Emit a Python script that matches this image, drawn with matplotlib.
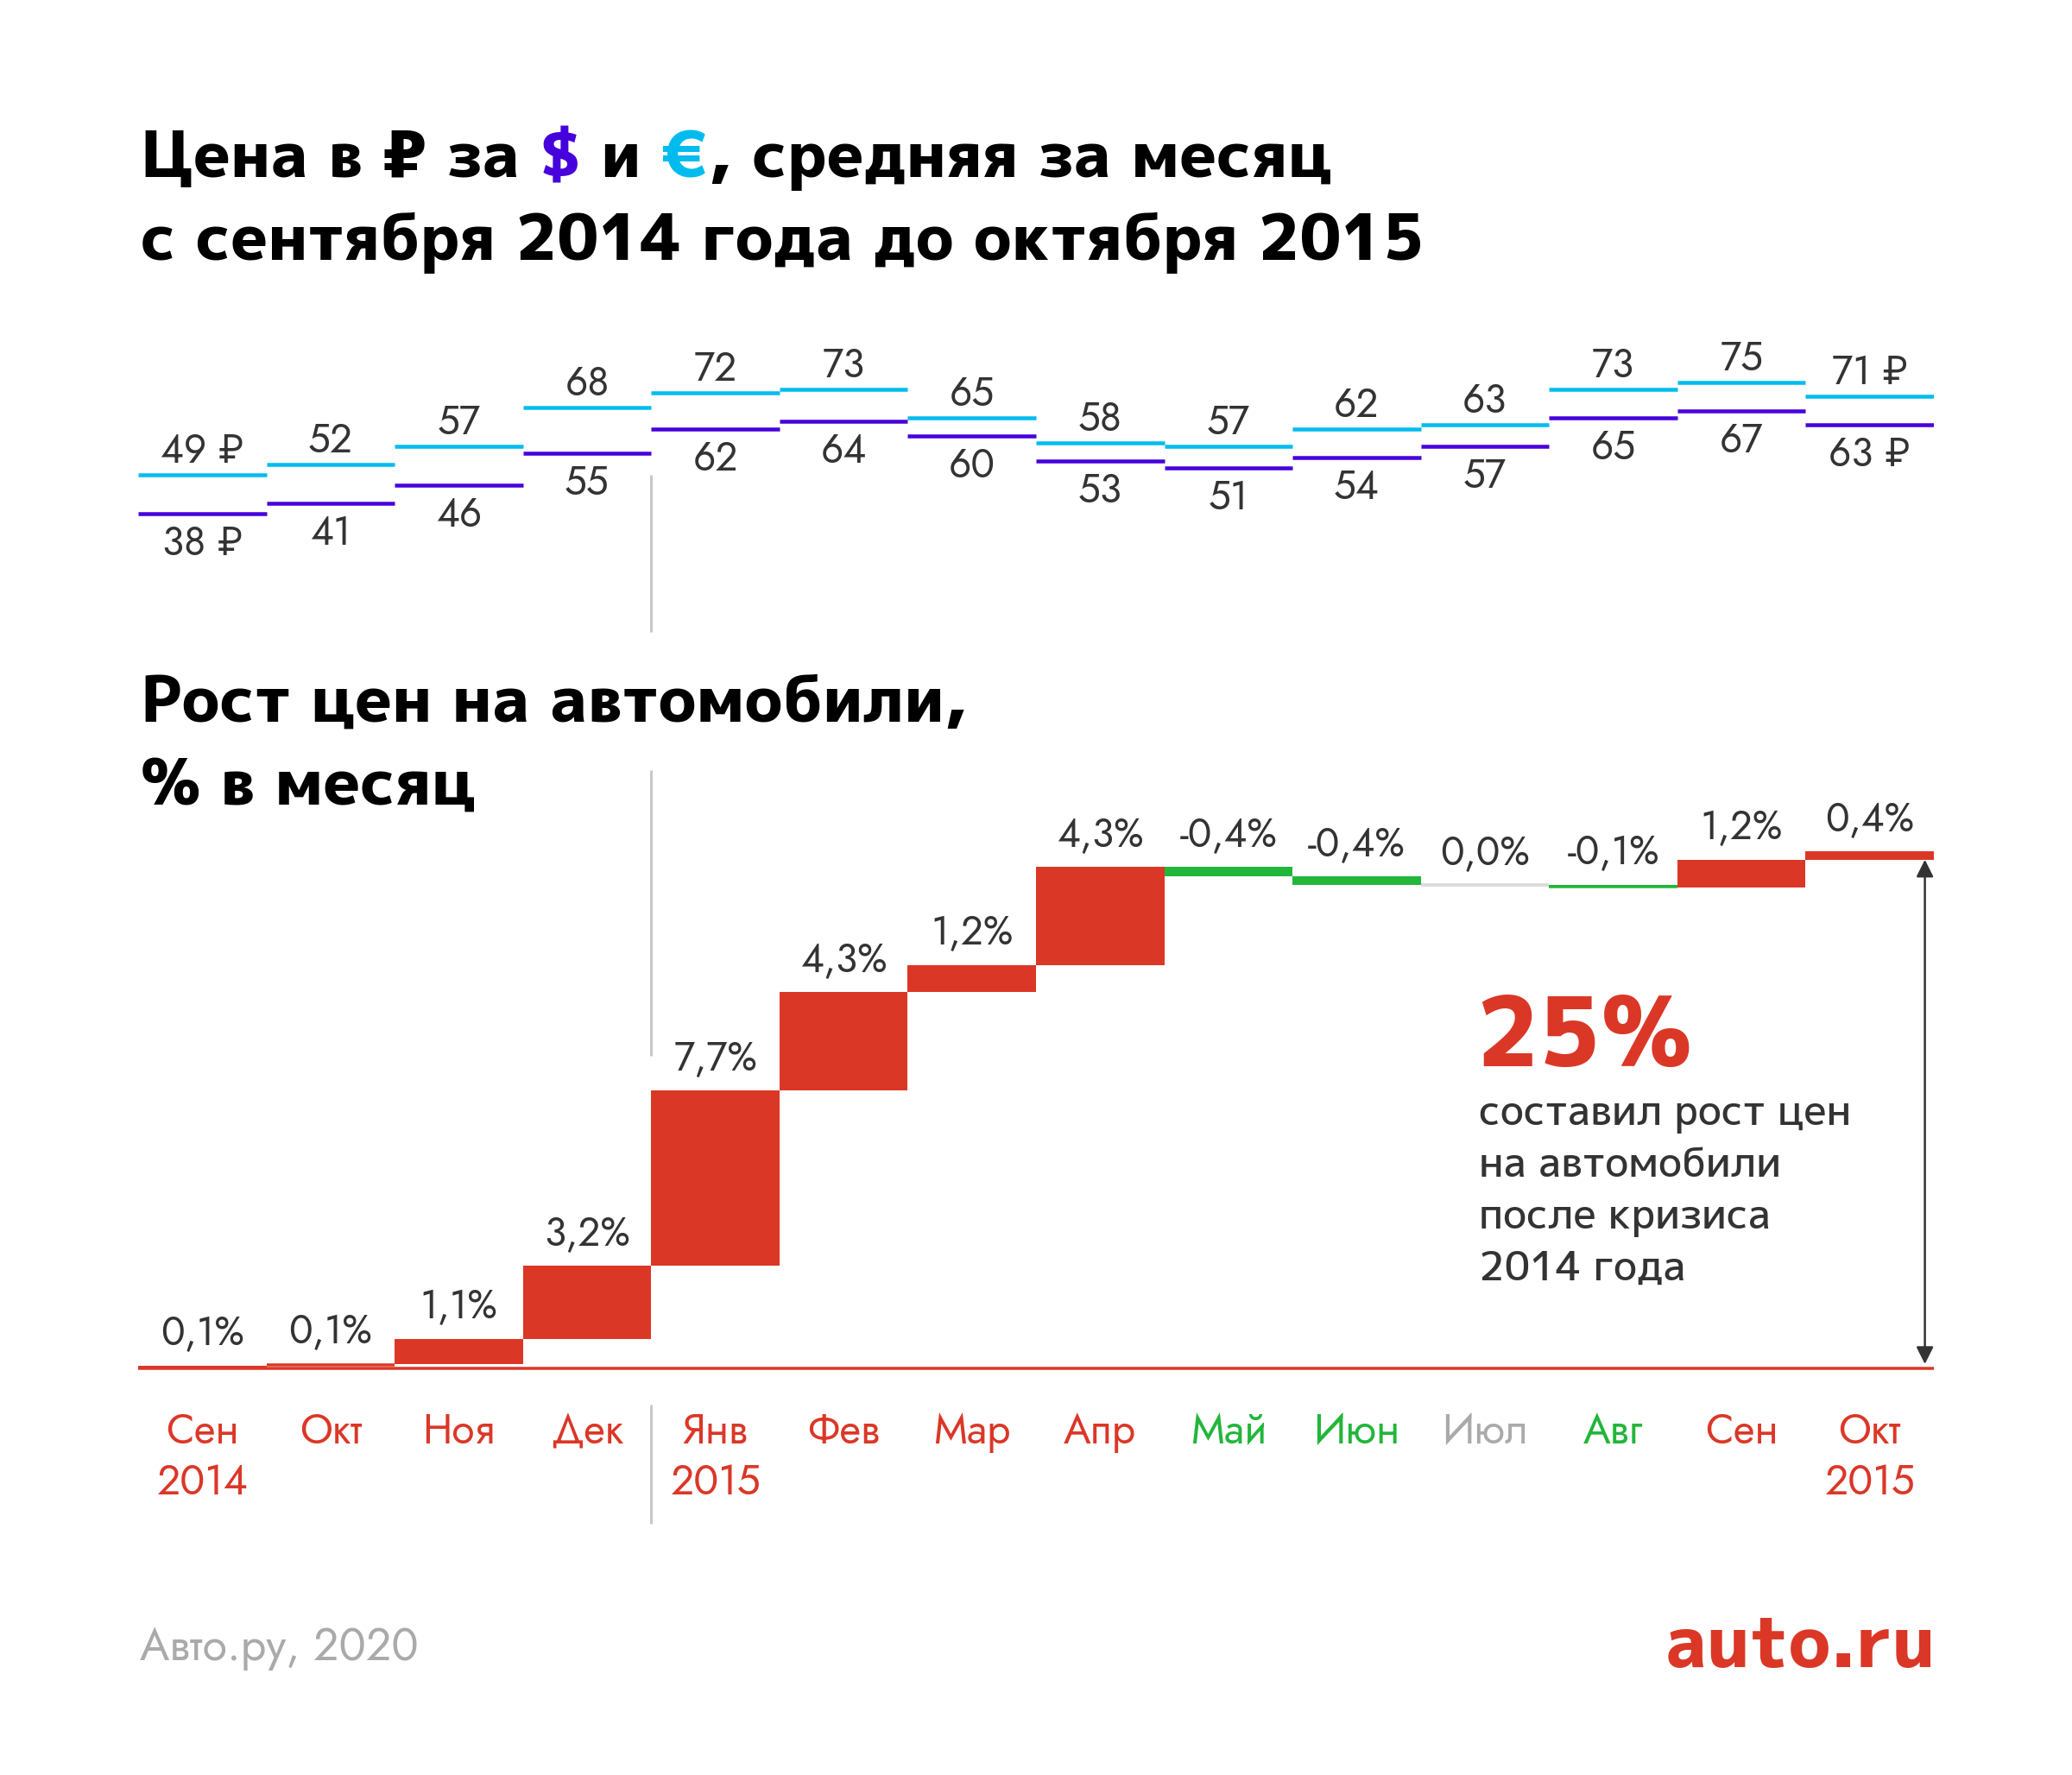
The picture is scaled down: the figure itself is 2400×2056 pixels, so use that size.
import numpy as np
import matplotlib
matplotlib.use("Agg")
import matplotlib.pyplot as plt
from matplotlib import transforms

W, H, DPI = 2400, 2056, 100

# ---- data ----
months = ["Сен", "Окт", "Ноя", "Дек", "Янв", "Фев", "Мар",
          "Апр", "Май", "Июн", "Июл", "Авг", "Сен", "Окт"]
years = ["2014", "", "", "", "2015", "", "", "", "", "", "", "", "", "2015"]
eur_rub = [49, 52, 57, 68, 72, 73, 65, 58, 57, 62, 63, 73, 75, 71]   # ₽ per €
usd_rub = [38, 41, 46, 55, 62, 64, 60, 53, 51, 54, 57, 65, 67, 63]   # ₽ per $
car_growth = [0.1, 0.1, 1.1, 3.2, 7.7, 4.3, 1.2, 4.3,
              -0.4, -0.4, 0.0, -0.1, 1.2, 0.4]                        # % per month
total_note = "25%"
note_lines = ["составил рост цен", "на автомобили", "после кризиса", "2014 года"]

RED = "#db3727"
GREEN = "#22b63a"
GREY_BAR = "#dcdcdc"
GREY_TXT = "#aaaaaa"
EUR_C = "#00bcee"
USD_C = "#4600dc"
INK = "#333333"
DIV = "#c8c8c8"

HEAD = ["M PLUS 1p", "DejaVu Sans"]     # heavy geometric for titles / logo
BODY = ["Jost", "DejaVu Sans"]          # futura-ish for numbers and months
plt.rcParams["font.family"] = BODY


def px(v):
    """pixels -> points"""
    return v * 72.0 / DPI


def fx(x):
    return x / W


def fy(y):
    """image row (from top) -> figure fraction"""
    return 1.0 - y / H


fig = plt.figure(figsize=(W / DPI, H / DPI), dpi=DPI)
fig.patch.set_facecolor("white")
n = len(months)
xs = np.arange(n) + 0.5

# ---------- titles ----------
TITLE = px(74)
TW = 800


def colored_line(x, y, pieces, size):
    r = fig.canvas.get_renderer()

    def width(s):
        t = fig.text(0, 0, s, fontsize=size, fontweight=TW, family=HEAD)
        w = t.get_window_extent(r).width
        t.remove()
        return w

    full = ""
    for s, c in pieces:
        full += s
        core = s.strip()
        left = x + width(full) - width(core)
        fig.text(fx(left), fy(y), core, fontsize=size, fontweight=TW, family=HEAD,
                 color=c, ha="left", va="baseline")


colored_line(163, 205, [("Цена в ₽ за", "black"), (" $", USD_C), (" и", "black"),
                        (" €", EUR_C), (", средняя за месяц", "black")], TITLE)
for y, s in [(301, "с сентября 2014 года до октября 2015"),
             (836, "Рост цен на автомобили,"), (932, "% в месяц")]:
    fig.text(fx(163), fy(y), s, fontsize=TITLE, fontweight=TW, family=HEAD,
             va="baseline")

# ---------- top: exchange rates ----------
ax_t = fig.add_axes([fx(160), fy(640), 2080 / W, 220 / H])
ax_t.set_xlim(0, n)
ax_t.set_ylim((752 - 640) / 4.12, (752 - 420) / 4.12)
ax_t.axis("off")
ax_t.hlines(eur_rub, xs - 0.5, xs + 0.5, color=EUR_C, lw=px(4.5), capstyle="butt")
ax_t.hlines(usd_rub, xs - 0.5, xs + 0.5, color=USD_C, lw=px(4.5), capstyle="butt")
LAB = px(46)
for i in range(n):
    suf = " ₽" if i in (0, n - 1) else ""
    ax_t.annotate(f"{eur_rub[i]}{suf}", (xs[i], eur_rub[i]), xytext=(0, px(14)),
                  textcoords="offset points", ha="center", va="baseline",
                  fontsize=LAB, color=INK, annotation_clip=False)
    ax_t.annotate(f"{usd_rub[i]}{suf}", (xs[i], usd_rub[i]), xytext=(0, -px(48)),
                  textcoords="offset points", ha="center", va="baseline",
                  fontsize=LAB, color=INK, annotation_clip=False)

# ---------- bottom: waterfall of car prices ----------
ax_b = fig.add_axes([fx(160), fy(1600), 2080 / W, 640 / H])
ax_b.set_xlim(0, n)
ax_b.set_ylim(-(1600 - 1585) / 26.4, (1585 - 960) / 26.4)
ax_b.axis("off")

cum = np.concatenate([[0.0], np.cumsum(car_growth)])
start, end = cum[:-1], cum[1:]
colors = [RED if v > 0 else GREEN if v < 0 else GREY_BAR for v in car_growth]
ax_b.bar(xs, car_growth, bottom=start, width=1.0, color=colors, linewidth=0)
for i, v in enumerate(car_growth):
    if v == 0:
        ax_b.hlines(start[i], i, i + 1, color=GREY_BAR, lw=px(4), capstyle="butt")
    elif abs(v) < 0.15:   # keep hairline bars visible
        ax_b.hlines((start[i] + end[i]) / 2, i, i + 1, color=colors[i], lw=px(3.5),
                    capstyle="butt")
ax_b.hlines(0, 0, n, color=RED, lw=px(3.5), capstyle="butt")

for i, v in enumerate(car_growth):
    top = max(start[i], end[i])
    lab = f"{v:.1f}".replace(".", ",") + "%"
    ax_b.annotate(lab, (xs[i], top), xytext=(0, px(24)), textcoords="offset points",
                  ha="center", va="baseline", fontsize=LAB, color=INK,
                  annotation_clip=False)

# total arrow
ax_b.annotate("", xy=(13.93, end[-1]), xytext=(13.93, 0),
              arrowprops=dict(arrowstyle="<|-|>,head_length=0.6,head_width=0.3",
                              mutation_scale=20, lw=px(2.5), color=INK,
                              shrinkA=px(5), shrinkB=px(10)))

# month labels
trans = transforms.blended_transform_factory(ax_b.transData, fig.transFigure)
for i in range(n):
    c = RED if car_growth[i] > 0 else GREEN if car_growth[i] < 0 else GREY_TXT
    ax_b.text(xs[i], fy(1672), months[i], transform=trans, ha="center",
              va="baseline", fontsize=px(48), color=c)
    if years[i]:
        ax_b.text(xs[i], fy(1731), years[i], transform=trans, ha="center",
                  va="baseline", fontsize=px(48), color=c)

# year divider
for y0, y1 in [(550, 732), (892, 1223), (1627, 1765)]:
    ax_b.plot([4, 4], [fy(y0), fy(y1)], transform=trans, color=DIV,
              lw=px(3), clip_on=False, solid_capstyle="butt")

# ---------- note ----------
fig.text(fx(1709), fy(1235), total_note, fontsize=px(112), fontweight=800,
         family=HEAD, color=RED, va="baseline")
for k, line in enumerate(note_lines):
    fig.text(fx(1713), fy(1303 + 60 * k), line, fontsize=px(47), fontweight=500,
             family=HEAD, color=INK, va="baseline")

# ---------- footer ----------
fig.text(fx(162), fy(1923), "Авто.ру, 2020", fontsize=px(52), color=GREY_TXT,
         va="baseline")
fig.text(fx(2242), fy(1931), "auto.ru", fontsize=px(82), fontweight=800,
         family=HEAD, color=RED, ha="right", va="baseline")

fig.savefig("out.png", dpi=DPI, facecolor="white")
